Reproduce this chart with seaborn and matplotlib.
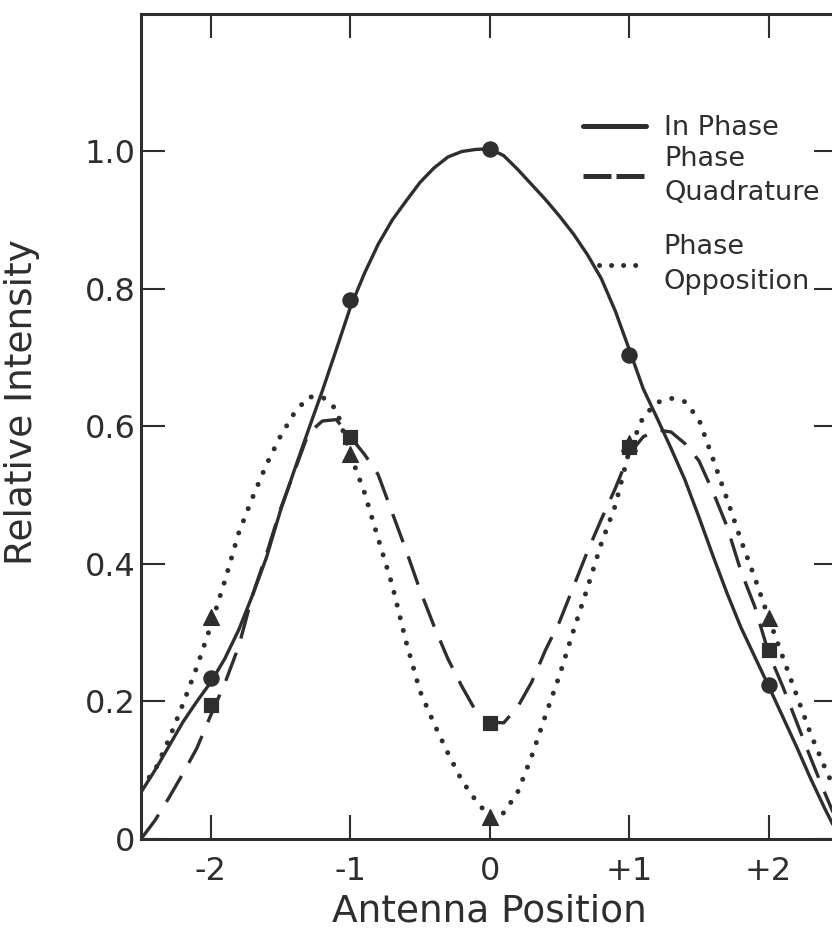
import numpy as np
import pandas as pd
import seaborn as sns
import matplotlib.pyplot as plt
from matplotlib.lines import Line2D

# curve readings: antenna position vs relative intensity
pos = [-2.5, -2.4, -2.3, -2.2, -2.1, -2.0, -1.9, -1.8, -1.7, -1.6, -1.5,
       -1.4, -1.3, -1.2, -1.1, -1.0, -0.9, -0.8, -0.7, -0.6, -0.5, -0.4,
       -0.3, -0.2, -0.1, 0.0, 0.1, 0.2, 0.3, 0.4, 0.5, 0.6, 0.7, 0.8, 0.9,
       1.0, 1.1, 1.2, 1.3, 1.4, 1.5, 1.6, 1.7, 1.8, 1.9, 2.0, 2.1, 2.2,
       2.3, 2.4, 2.5]
in_phase = [0.068, 0.100, 0.135, 0.170, 0.200, 0.228, 0.262, 0.304, 0.355,
            0.410, 0.478, 0.537, 0.595, 0.652, 0.712, 0.773, 0.822, 0.865,
            0.900, 0.928, 0.955, 0.976, 0.992, 1.000, 1.003, 1.004, 0.994,
            0.974, 0.952, 0.930, 0.906, 0.880, 0.850, 0.815, 0.768, 0.712,
            0.655, 0.612, 0.568, 0.522, 0.468, 0.412, 0.358, 0.308, 0.265,
            0.222, 0.178, 0.134, 0.088, 0.045, 0.005]
quadrature = [0.000, 0.027, 0.060, 0.095, 0.132, 0.180, 0.226, 0.280, 0.355,
              0.415, 0.480, 0.535, 0.590, 0.608, 0.610, 0.585, 0.560, 0.530,
              0.475, 0.420, 0.362, 0.310, 0.262, 0.222, 0.186, 0.170, 0.169,
              0.192, 0.228, 0.275, 0.316, 0.367, 0.418, 0.465, 0.510, 0.560,
              0.585, 0.595, 0.592, 0.575, 0.550, 0.505, 0.455, 0.390, 0.338,
              0.270, 0.222, 0.170, 0.118, 0.068, 0.020]
opposition = [0.075, 0.100, 0.145, 0.196, 0.250, 0.310, 0.375, 0.445, 0.497,
              0.545, 0.586, 0.620, 0.643, 0.643, 0.625, 0.560, 0.505, 0.437,
              0.370, 0.287, 0.215, 0.168, 0.125, 0.085, 0.056, 0.032, 0.038,
              0.068, 0.120, 0.180, 0.238, 0.303, 0.365, 0.430, 0.485, 0.565,
              0.614, 0.635, 0.641, 0.636, 0.610, 0.553, 0.495, 0.435, 0.380,
              0.321, 0.265, 0.209, 0.153, 0.105, 0.060]

# measured points
mark_x = [-2, -1, 0, 1, 2]
mark_in = [0.234, 0.784, 1.003, 0.704, 0.224]
mark_quad = [0.195, 0.585, 0.169, 0.570, 0.275]
mark_opp = [0.323, 0.560, 0.032, 0.576, 0.321]

x_ticks = [-2, -1, 0, 1, 2]
x_labels = ["-2", "-1", "0", "+1", "+2"]
y_ticks = [0, 0.2, 0.4, 0.6, 0.8, 1.0]
y_labels = ["0", "0.2", "0.4", "0.6", "0.8", "1.0"]

INK = "#2e2e2e"
DASHED = (0, (9, 4.5))
DOTTED = (0, (0.01, 2.6))

sns.set_theme(style="ticks")
plt.rcParams['font.family'] = ['DejaVu Sans']

fig = plt.figure(figsize=(8.32, 9.39), dpi=100)
ax = fig.add_axes([0.1695, 0.1065, 0.8383, 0.8786])

df = pd.DataFrame({"pos": pos, "in": in_phase, "quad": quadrature, "opp": opposition})
marks = pd.DataFrame({"x": mark_x, "in": mark_in, "quad": mark_quad, "opp": mark_opp})

sns.lineplot(data=df, x="pos", y="in", ax=ax, color=INK, lw=2.4,
             estimator=None, sort=False)
sns.lineplot(data=df, x="pos", y="quad", ax=ax, color=INK, lw=2.4,
             linestyle=DASHED, estimator=None, sort=False)
sns.lineplot(data=df, x="pos", y="opp", ax=ax, color=INK, lw=3.6,
             linestyle=DOTTED, dash_capstyle="round", estimator=None, sort=False)

sns.scatterplot(data=marks, x="x", y="in", ax=ax, marker="o", s=120,
                color=INK, edgecolor=INK, zorder=5)
sns.scatterplot(data=marks, x="x", y="quad", ax=ax, marker="s", s=110,
                color=INK, edgecolor=INK, zorder=5)
sns.scatterplot(data=marks, x="x", y="opp", ax=ax, marker="^", s=130,
                color=INK, edgecolor=INK, zorder=5)

ax.set_xlim(-2.5, 2.5)
ax.set_ylim(0, 1.2)
ax.set_xticks(x_ticks)
ax.set_xticklabels(x_labels)
ax.set_yticks(y_ticks)
ax.set_yticklabels(y_labels)
ax.tick_params(direction="in", length=17, width=1.5, top=True, right=True,
               labelsize=23, colors=INK)
ax.tick_params(axis="x", pad=12)
ax.tick_params(axis="y", pad=4)
for sp in ax.spines.values():
    sp.set_linewidth(2.2)
    sp.set_color(INK)

ax.set_xlabel("Antenna Position", fontsize=27, color=INK)
ax.set_ylabel("Relative Intensity", fontsize=27, color=INK)
ax.xaxis.set_label_coords(0.5, -0.066)
ax.yaxis.set_label_coords(-0.145, 0.53)

# legend in two pieces so the gap before the last entry matches
leg_kw = dict(loc="upper left", frameon=False, fontsize=19.5,
              handletextpad=0.7, borderpad=0, borderaxespad=0,
              labelcolor=INK)
top_handles = [
    Line2D([], [], color=INK, lw=3.6),
    Line2D([], [], color=INK, lw=3.6, linestyle=(0, (5.6, 1.0))),
]
leg1 = ax.legend(top_handles, ["In Phase", "Phase\nQuadrature"],
                 bbox_to_anchor=(0.634, 0.877), handlelength=2.3,
                 labelspacing=0.15, **leg_kw)
for t in leg1.get_texts():
    t.set_linespacing(1.4)
ax.add_artist(leg1)

opp_handle = [Line2D([], [], color=INK, lw=3.6, linestyle=(0, (0.01, 2.4)),
                     dash_capstyle="round")]
leg2 = ax.legend(opp_handle, ["Phase\nOpposition"],
                 bbox_to_anchor=(0.657, 0.733), handlelength=1.66, **leg_kw)
for t in leg2.get_texts():
    t.set_linespacing(1.45)

fig.savefig("out.png", dpi=100)
